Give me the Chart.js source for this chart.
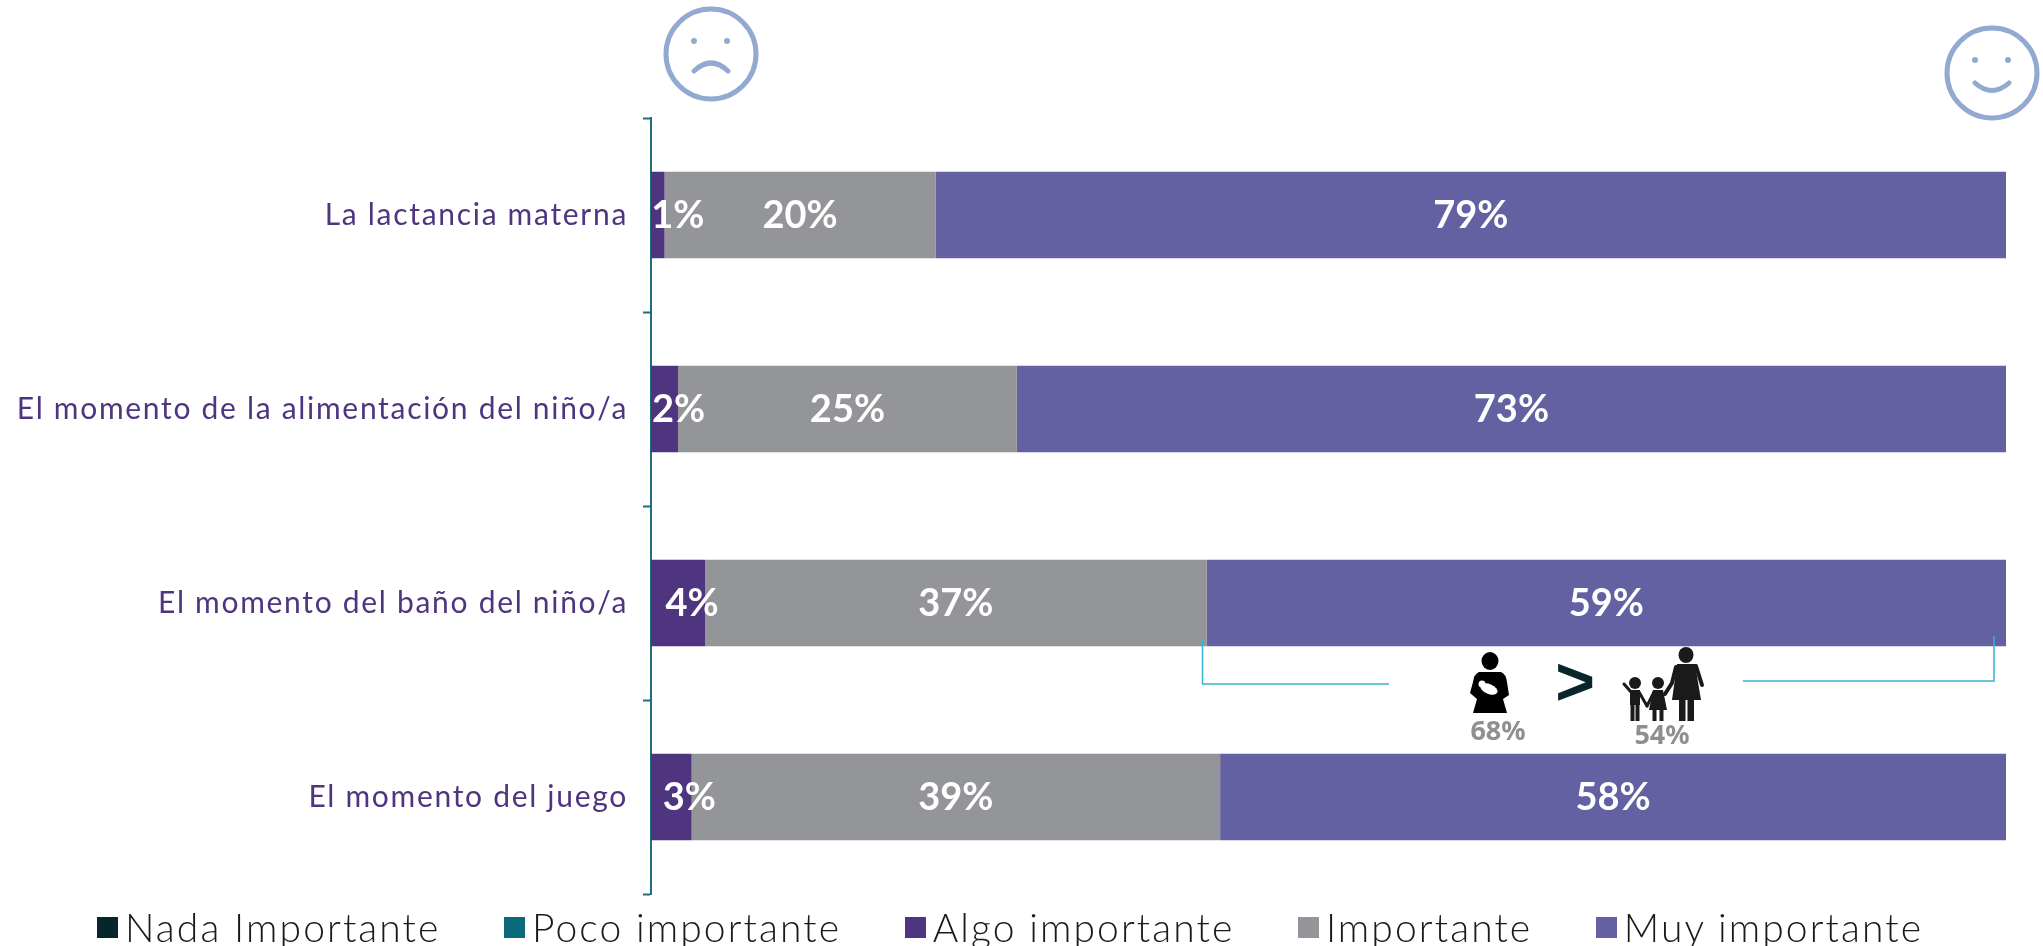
<!DOCTYPE html>
<html lang="es">
<head>
<meta charset="utf-8">
<title>Importancia de los momentos</title>
<script src="https://cdn.jsdelivr.net/npm/chart.js@4"></script>
<style>
  html, body { margin: 0; padding: 0; background: #fff; }
  #wrap { position: relative; width: 2043px; height: 946px; overflow: hidden; }
  #legend { position: absolute; left: 97px; top: 904px; display: flex; gap: 63.5px; font: 300 39px/46px Lato, sans-serif; letter-spacing: 2.1px; color: #1a1a1a; white-space: nowrap; }
  #legend div { display: flex; align-items: center; }
  #legend i { width: 21px; height: 21px; margin-right: 7px; display: block; }
</style>
</head>
<body>
<div id="wrap">
  <canvas id="chart" width="2043" height="946"></canvas>
  <div id="legend"></div>
</div>
<script>
var categories = ["La lactancia materna", "El momento de la alimentación del niño/a", "El momento del baño del niño/a", "El momento del juego"];
var nadaImportante = [0, 0, 0, 0];
var pocoImportante = [0, 0, 0, 0];
var algoImportante = [1, 2, 4, 3];
var importante = [20, 25, 37, 39];
var muyImportante = [79, 73, 59, 58];
var calloutLabels = ["68%", "54%"];

// the small segments have their label pushed right, as in the original
var algoLabelShift = [20, 14, 14, 18];
var faceColor = "#92a9d1";
var calloutColor = "#38b4cf";

function drawFace(ctx, cx, cy, happy) {
  ctx.strokeStyle = faceColor; ctx.fillStyle = faceColor; ctx.lineCap = "round";
  ctx.lineWidth = 5;
  ctx.beginPath(); ctx.arc(cx, cy, 45, 0, Math.PI * 2); ctx.stroke();
  ctx.beginPath(); ctx.arc(cx - 17, cy - 13, 3, 0, Math.PI * 2); ctx.arc(cx + 16, cy - 13, 3, 0, Math.PI * 2); ctx.fill();
  ctx.lineWidth = 5;
  ctx.beginPath();
  if (happy) { ctx.moveTo(cx - 17, cy + 10); ctx.quadraticCurveTo(cx, cy + 25, cx + 17, cy + 10); }
  else { ctx.moveTo(cx - 17, cy + 17); ctx.quadraticCurveTo(cx, cy + 1, cx + 17, cy + 17); }
  ctx.stroke();
}

function drawMother(ctx) {
  ctx.fillStyle = "#000";
  ctx.beginPath(); ctx.ellipse(1490, 661, 8.5, 9, 0, 0, Math.PI * 2); ctx.fill();
  ctx.beginPath();
  ctx.moveTo(1479, 672); ctx.lineTo(1501, 672);
  ctx.quadraticCurveTo(1506, 674, 1507, 682);
  ctx.lineTo(1509, 695); ctx.lineTo(1503, 699); ctx.lineTo(1507, 713); ctx.lineTo(1473, 713); ctx.lineTo(1477, 699);
  ctx.lineTo(1470, 693); ctx.lineTo(1473, 682);
  ctx.quadraticCurveTo(1474, 674, 1479, 672);
  ctx.fill();
  ctx.fillStyle = "#fff";
  ctx.beginPath(); ctx.ellipse(1489, 689, 9, 5, 0.4, 0, Math.PI * 2); ctx.fill();
  ctx.beginPath(); ctx.arc(1482, 684, 3.5, 0, Math.PI * 2); ctx.fill();
}

function drawFamily(ctx) {
  ctx.fillStyle = "#1a1a1a"; ctx.strokeStyle = "#1a1a1a"; ctx.lineCap = "round";
  // adult
  ctx.beginPath(); ctx.ellipse(1686, 655, 7.5, 8, 0, 0, Math.PI * 2); ctx.fill();
  ctx.beginPath();
  ctx.moveTo(1677, 664); ctx.lineTo(1695, 664); ctx.lineTo(1701, 700); ctx.lineTo(1672, 700);
  ctx.closePath(); ctx.fill();
  ctx.fillRect(1679, 699, 6.5, 22); ctx.fillRect(1687.5, 699, 6.5, 22);
  ctx.lineWidth = 4;
  ctx.beginPath(); ctx.moveTo(1696, 666); ctx.lineTo(1702, 685); ctx.stroke();
  ctx.beginPath(); ctx.moveTo(1676, 667); ctx.lineTo(1672, 683); ctx.lineTo(1665, 694); ctx.stroke();
  // first child
  ctx.beginPath(); ctx.arc(1635, 683, 6, 0, Math.PI * 2); ctx.fill();
  ctx.fillRect(1630, 690, 10, 15); ctx.fillRect(1630.5, 704, 4, 17); ctx.fillRect(1635.5, 704, 4, 17);
  ctx.lineWidth = 3;
  ctx.beginPath(); ctx.moveTo(1631, 692); ctx.lineTo(1624, 684); ctx.stroke();
  ctx.beginPath(); ctx.moveTo(1639, 692); ctx.lineTo(1647, 706); ctx.stroke();
  // second child
  ctx.beginPath(); ctx.arc(1658, 683, 6, 0, Math.PI * 2); ctx.fill();
  ctx.beginPath(); ctx.moveTo(1653, 690); ctx.lineTo(1663, 690); ctx.lineTo(1667, 710); ctx.lineTo(1649, 710); ctx.closePath(); ctx.fill();
  ctx.fillRect(1652.5, 709, 4, 12); ctx.fillRect(1659.5, 709, 4, 12);
  ctx.beginPath(); ctx.moveTo(1654, 692); ctx.lineTo(1647, 706); ctx.stroke();
}

var decorations = {
  id: "decorations",
  afterDraw: function (chart) {
    var ctx = chart.ctx;
    ctx.save();
    ctx.letterSpacing = "0px";
    drawFace(ctx, 711, 54, false);
    drawFace(ctx, 1992, 73, true);

    ctx.strokeStyle = calloutColor; ctx.lineWidth = 1.5; ctx.lineCap = "butt";
    ctx.beginPath(); ctx.moveTo(1202.5, 640); ctx.lineTo(1202.5, 684); ctx.lineTo(1389, 684); ctx.stroke();
    ctx.beginPath(); ctx.moveTo(1743, 681); ctx.lineTo(1994, 681); ctx.lineTo(1994, 636); ctx.stroke();

    drawMother(ctx);
    drawFamily(ctx);

    ctx.textAlign = "center"; ctx.textBaseline = "middle";
    ctx.fillStyle = "#06262b";
    ctx.font = "bold 68px 'Liberation Sans'";
    ctx.fillText(">", 1575, 686);
    ctx.fillStyle = "#8f8f8f";
    ctx.font = "bold 27px 'Noto Sans'";
    ctx.fillText(calloutLabels[0], 1498, 732);
    ctx.fillText(calloutLabels[1], 1662, 736);
    ctx.restore();
  }
};

var segmentLabels = {
  id: "segmentLabels",
  // axis labels need wider tracking to fill the same width as the original font
  beforeDraw: function (chart) { chart.ctx.letterSpacing = "1.7px"; },
  afterDatasetsDraw: function (chart) {
    var ctx = chart.ctx;
    ctx.save();
    ctx.letterSpacing = "0px";
    ctx.fillStyle = "#fff";
    ctx.font = "bold 38px Lato";
    ctx.textAlign = "center"; ctx.textBaseline = "middle";
    chart.data.datasets.forEach(function (ds, d) {
      chart.getDatasetMeta(d).data.forEach(function (bar, i) {
        if (!ds.data[i]) return;
        var shift = ds.data === algoImportante ? algoLabelShift[i] : 0;
        ctx.fillText(ds.data[i] + "%", (bar.x + bar.base) / 2 + shift, bar.y + 1);
      });
    });
    ctx.restore();
  }
};

var htmlLegend = {
  id: "htmlLegend",
  afterUpdate: function (chart) {
    var box = document.getElementById("legend");
    box.innerHTML = "";
    chart.data.datasets.forEach(function (ds) {
      var item = document.createElement("div");
      item.innerHTML = '<i style="background:' + ds.backgroundColor + '"></i><span>' + ds.label + "</span>";
      box.appendChild(item);
    });
  }
};

function series(label, data, color) {
  return { label: label, data: data, backgroundColor: color, categoryPercentage: 1, barPercentage: 0.447 };
}

new Chart(document.getElementById("chart").getContext("2d"), {
  type: "bar",
  data: {
    labels: categories,
    datasets: [
      series("Nada Importante", nadaImportante, "#06262b"),
      series("Poco importante", pocoImportante, "#0b6a7a"),
      series("Algo importante", algoImportante, "#4f3580"),
      series("Importante", importante, "#949598"),
      series("Muy importante", muyImportante, "#6461a2")
    ]
  },
  options: {
    indexAxis: "y",
    responsive: false,
    animation: false,
    layout: { padding: { top: 118, right: 37, bottom: 52, left: 0 } },
    plugins: { legend: { display: false }, tooltip: { enabled: false } },
    scales: {
      x: { stacked: true, display: false, min: 0, max: 100 },
      y: {
        stacked: true,
        afterFit: function (scale) { scale.width = 651; },
        border: { color: "#1f6f7a", width: 2 },
        grid: { drawOnChartArea: false, color: "#1f6f7a", tickLength: 8, tickWidth: 2 },
        ticks: { color: "#4f3580", font: { family: "Lato", size: 30 }, padding: 15 }
      }
    }
  },
  plugins: [segmentLabels, decorations, htmlLegend]
});
</script>
</body>
</html>
